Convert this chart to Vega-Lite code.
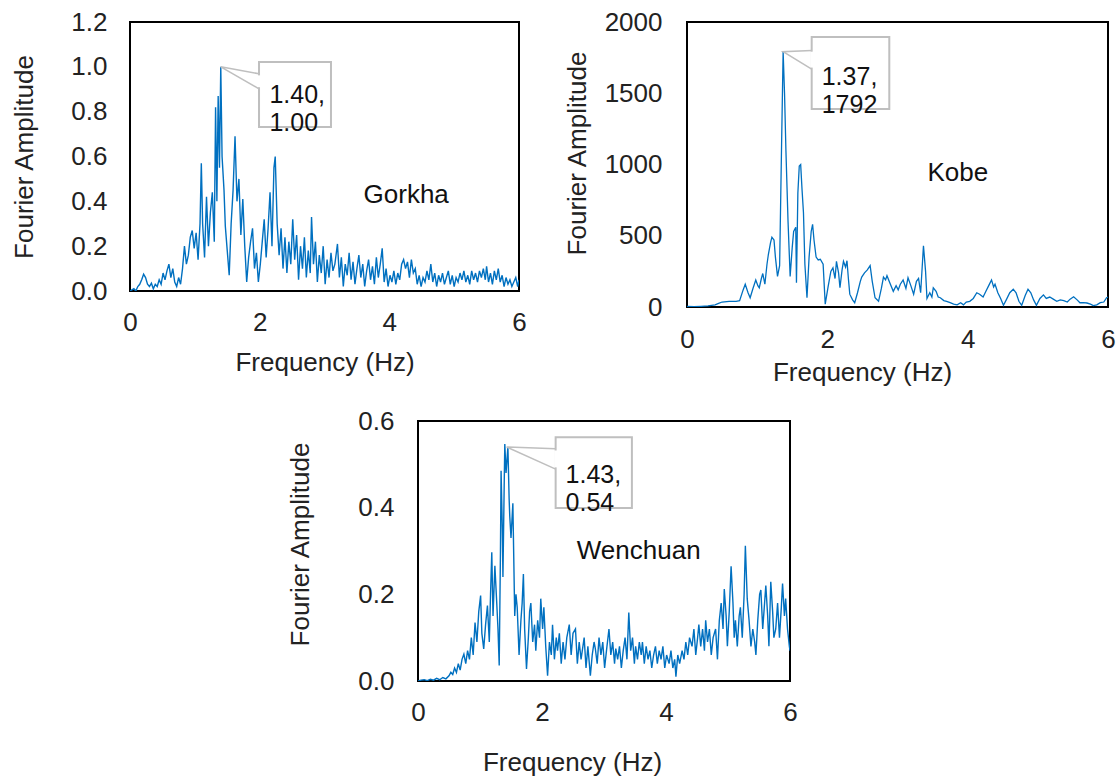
{
  "$schema": "https://vega.github.io/schema/vega-lite/v6.json",
  "padding": {"left": 10, "top": 8, "right": 0, "bottom": 0},
  "background": "white",
  "config": {
    "font": "Liberation Sans",
    "view": {"stroke": "#000", "strokeWidth": 2},
    "axis": {"domain": false, "ticks": false, "tickSize": 0, "grid": false, "labelFontSize": 26, "titleFontSize": 26, "titleFontWeight": "normal", "labelColor": "#222", "titleColor": "#222", "labelFont": "Liberation Sans", "titleFont": "Liberation Sans", "labelFlush": false, "labelBound": false, "labelOverlap": false}
  },
  "datasets": {
    "gorkha": [
      {"f":0.00,"a":0.00},{"f":0.03,"a":0.005},{"f":0.06,"a":0.01},{"f":0.09,"a":0.00},{"f":0.12,"a":0.02},{"f":0.15,"a":0.03},{"f":0.18,"a":0.05},{"f":0.21,"a":0.075},{"f":0.24,"a":0.06},{"f":0.27,"a":0.03},{"f":0.30,"a":0.02},{"f":0.33,"a":0.035},{"f":0.36,"a":0.01},{"f":0.39,"a":0.03},{"f":0.42,"a":0.02},{"f":0.45,"a":0.05},{"f":0.48,"a":0.03},{"f":0.51,"a":0.08},{"f":0.54,"a":0.05},{"f":0.57,"a":0.09},{"f":0.60,"a":0.12},{"f":0.63,"a":0.06},{"f":0.66,"a":0.10},{"f":0.69,"a":0.04},{"f":0.72,"a":0.02},{"f":0.75,"a":0.06},{"f":0.78,"a":0.03},{"f":0.81,"a":0.10},{"f":0.84,"a":0.20},{"f":0.87,"a":0.12},{"f":0.90,"a":0.16},{"f":0.93,"a":0.24},{"f":0.96,"a":0.27},{"f":0.99,"a":0.19},{"f":1.02,"a":0.26},{"f":1.05,"a":0.14},{"f":1.08,"a":0.30},{"f":1.10,"a":0.57},{"f":1.12,"a":0.30},{"f":1.15,"a":0.15},{"f":1.18,"a":0.42},{"f":1.21,"a":0.20},{"f":1.24,"a":0.35},{"f":1.27,"a":0.44},{"f":1.30,"a":0.22},{"f":1.32,"a":0.82},{"f":1.34,"a":0.40},{"f":1.36,"a":0.87},{"f":1.38,"a":0.55},{"f":1.40,"a":1.00},{"f":1.42,"a":0.60},{"f":1.45,"a":0.45},{"f":1.47,"a":0.29},{"f":1.50,"a":0.18},{"f":1.53,"a":0.07},{"f":1.56,"a":0.30},{"f":1.59,"a":0.45},{"f":1.62,"a":0.69},{"f":1.65,"a":0.40},{"f":1.68,"a":0.50},{"f":1.71,"a":0.25},{"f":1.74,"a":0.41},{"f":1.77,"a":0.20},{"f":1.80,"a":0.04},{"f":1.83,"a":0.15},{"f":1.86,"a":0.22},{"f":1.89,"a":0.28},{"f":1.92,"a":0.10},{"f":1.95,"a":0.17},{"f":1.98,"a":0.04},{"f":2.01,"a":0.12},{"f":2.04,"a":0.22},{"f":2.07,"a":0.32},{"f":2.10,"a":0.15},{"f":2.13,"a":0.28},{"f":2.16,"a":0.44},{"f":2.19,"a":0.20},{"f":2.22,"a":0.55},{"f":2.24,"a":0.60},{"f":2.27,"a":0.30},{"f":2.30,"a":0.16},{"f":2.33,"a":0.28},{"f":2.36,"a":0.10},{"f":2.39,"a":0.24},{"f":2.42,"a":0.08},{"f":2.45,"a":0.22},{"f":2.48,"a":0.12},{"f":2.51,"a":0.32},{"f":2.54,"a":0.14},{"f":2.57,"a":0.25},{"f":2.60,"a":0.05},{"f":2.63,"a":0.20},{"f":2.66,"a":0.10},{"f":2.69,"a":0.24},{"f":2.72,"a":0.06},{"f":2.75,"a":0.18},{"f":2.78,"a":0.08},{"f":2.80,"a":0.33},{"f":2.83,"a":0.12},{"f":2.86,"a":0.22},{"f":2.89,"a":0.04},{"f":2.92,"a":0.16},{"f":2.95,"a":0.08},{"f":2.98,"a":0.20},{"f":3.01,"a":0.03},{"f":3.04,"a":0.14},{"f":3.07,"a":0.06},{"f":3.10,"a":0.17},{"f":3.13,"a":0.09},{"f":3.16,"a":0.12},{"f":3.20,"a":0.21},{"f":3.23,"a":0.06},{"f":3.26,"a":0.15},{"f":3.29,"a":0.02},{"f":3.32,"a":0.12},{"f":3.35,"a":0.07},{"f":3.38,"a":0.17},{"f":3.41,"a":0.05},{"f":3.44,"a":0.13},{"f":3.47,"a":0.03},{"f":3.50,"a":0.10},{"f":3.53,"a":0.16},{"f":3.56,"a":0.06},{"f":3.59,"a":0.12},{"f":3.62,"a":0.02},{"f":3.65,"a":0.09},{"f":3.68,"a":0.14},{"f":3.71,"a":0.05},{"f":3.74,"a":0.11},{"f":3.77,"a":0.03},{"f":3.80,"a":0.15},{"f":3.83,"a":0.06},{"f":3.86,"a":0.12},{"f":3.89,"a":0.19},{"f":3.92,"a":0.04},{"f":3.95,"a":0.10},{"f":3.98,"a":0.02},{"f":4.01,"a":0.07},{"f":4.04,"a":0.04},{"f":4.07,"a":0.09},{"f":4.10,"a":0.03},{"f":4.13,"a":0.08},{"f":4.16,"a":0.05},{"f":4.19,"a":0.12},{"f":4.22,"a":0.14},{"f":4.25,"a":0.10},{"f":4.28,"a":0.13},{"f":4.31,"a":0.06},{"f":4.34,"a":0.14},{"f":4.37,"a":0.08},{"f":4.40,"a":0.10},{"f":4.43,"a":0.03},{"f":4.46,"a":0.07},{"f":4.49,"a":0.02},{"f":4.52,"a":0.06},{"f":4.55,"a":0.04},{"f":4.58,"a":0.09},{"f":4.61,"a":0.05},{"f":4.64,"a":0.12},{"f":4.67,"a":0.04},{"f":4.70,"a":0.08},{"f":4.73,"a":0.02},{"f":4.76,"a":0.07},{"f":4.79,"a":0.04},{"f":4.82,"a":0.08},{"f":4.85,"a":0.03},{"f":4.88,"a":0.06},{"f":4.91,"a":0.09},{"f":4.94,"a":0.03},{"f":4.97,"a":0.07},{"f":5.00,"a":0.02},{"f":5.03,"a":0.06},{"f":5.06,"a":0.04},{"f":5.09,"a":0.08},{"f":5.12,"a":0.05},{"f":5.15,"a":0.09},{"f":5.18,"a":0.04},{"f":5.21,"a":0.07},{"f":5.24,"a":0.03},{"f":5.27,"a":0.09},{"f":5.30,"a":0.05},{"f":5.33,"a":0.08},{"f":5.36,"a":0.04},{"f":5.39,"a":0.09},{"f":5.42,"a":0.06},{"f":5.45,"a":0.10},{"f":5.48,"a":0.05},{"f":5.50,"a":0.11},{"f":5.53,"a":0.04},{"f":5.56,"a":0.08},{"f":5.59,"a":0.03},{"f":5.62,"a":0.09},{"f":5.65,"a":0.05},{"f":5.68,"a":0.10},{"f":5.71,"a":0.04},{"f":5.74,"a":0.07},{"f":5.77,"a":0.02},{"f":5.80,"a":0.06},{"f":5.83,"a":0.03},{"f":5.86,"a":0.05},{"f":5.89,"a":0.02},{"f":5.92,"a":0.04},{"f":5.95,"a":0.06},{"f":5.98,"a":0.02},{"f":6.00,"a":0.05}
    ],
    "kobe": [
      {"f":0.00,"a":5},{"f":0.10,"a":3},{"f":0.20,"a":5},{"f":0.30,"a":8},{"f":0.40,"a":15},{"f":0.45,"a":25},{"f":0.50,"a":35},{"f":0.60,"a":40},{"f":0.70,"a":40},{"f":0.75,"a":45},{"f":0.80,"a":120},{"f":0.83,"a":160},{"f":0.87,"a":100},{"f":0.90,"a":65},{"f":0.94,"a":130},{"f":0.98,"a":190},{"f":1.01,"a":150},{"f":1.03,"a":135},{"f":1.06,"a":200},{"f":1.08,"a":235},{"f":1.11,"a":160},{"f":1.14,"a":300},{"f":1.16,"a":370},{"f":1.19,"a":450},{"f":1.21,"a":490},{"f":1.24,"a":470},{"f":1.26,"a":350},{"f":1.29,"a":215},{"f":1.32,"a":290},{"f":1.35,"a":1200},{"f":1.37,"a":1792},{"f":1.39,"a":1500},{"f":1.41,"a":1095},{"f":1.44,"a":600},{"f":1.47,"a":215},{"f":1.50,"a":420},{"f":1.52,"a":530},{"f":1.55,"a":560},{"f":1.56,"a":170},{"f":1.58,"a":800},{"f":1.60,"a":990},{"f":1.62,"a":1000},{"f":1.64,"a":820},{"f":1.66,"a":660},{"f":1.68,"a":300},{"f":1.71,"a":65},{"f":1.74,"a":350},{"f":1.77,"a":530},{"f":1.79,"a":580},{"f":1.81,"a":470},{"f":1.84,"a":350},{"f":1.87,"a":330},{"f":1.90,"a":335},{"f":1.94,"a":300},{"f":1.97,"a":20},{"f":2.01,"a":140},{"f":2.05,"a":250},{"f":2.08,"a":275},{"f":2.11,"a":200},{"f":2.13,"a":320},{"f":2.16,"a":240},{"f":2.18,"a":135},{"f":2.21,"a":260},{"f":2.23,"a":320},{"f":2.26,"a":280},{"f":2.28,"a":325},{"f":2.30,"a":200},{"f":2.32,"a":90},{"f":2.36,"a":50},{"f":2.39,"a":30},{"f":2.43,"a":100},{"f":2.47,"a":180},{"f":2.49,"a":210},{"f":2.53,"a":240},{"f":2.57,"a":260},{"f":2.61,"a":290},{"f":2.64,"a":180},{"f":2.68,"a":65},{"f":2.73,"a":40},{"f":2.77,"a":130},{"f":2.80,"a":210},{"f":2.83,"a":190},{"f":2.85,"a":220},{"f":2.89,"a":170},{"f":2.94,"a":110},{"f":2.98,"a":150},{"f":3.01,"a":120},{"f":3.04,"a":160},{"f":3.08,"a":190},{"f":3.12,"a":130},{"f":3.15,"a":205},{"f":3.19,"a":150},{"f":3.23,"a":90},{"f":3.27,"a":180},{"f":3.30,"a":200},{"f":3.33,"a":100},{"f":3.37,"a":430},{"f":3.40,"a":250},{"f":3.42,"a":60},{"f":3.46,"a":100},{"f":3.49,"a":70},{"f":3.51,"a":135},{"f":3.55,"a":110},{"f":3.58,"a":70},{"f":3.61,"a":65},{"f":3.66,"a":45},{"f":3.70,"a":40},{"f":3.75,"a":30},{"f":3.80,"a":20},{"f":3.85,"a":15},{"f":3.90,"a":30},{"f":3.94,"a":15},{"f":3.98,"a":35},{"f":4.03,"a":40},{"f":4.08,"a":60},{"f":4.13,"a":100},{"f":4.17,"a":90},{"f":4.22,"a":70},{"f":4.26,"a":110},{"f":4.30,"a":150},{"f":4.34,"a":190},{"f":4.37,"a":140},{"f":4.39,"a":160},{"f":4.43,"a":100},{"f":4.47,"a":60},{"f":4.51,"a":12},{"f":4.55,"a":50},{"f":4.60,"a":100},{"f":4.65,"a":125},{"f":4.69,"a":100},{"f":4.73,"a":40},{"f":4.77,"a":12},{"f":4.82,"a":80},{"f":4.86,"a":125},{"f":4.90,"a":100},{"f":4.94,"a":50},{"f":4.98,"a":12},{"f":5.03,"a":60},{"f":5.08,"a":85},{"f":5.12,"a":60},{"f":5.17,"a":70},{"f":5.22,"a":55},{"f":5.27,"a":40},{"f":5.32,"a":50},{"f":5.37,"a":45},{"f":5.42,"a":35},{"f":5.46,"a":55},{"f":5.51,"a":72},{"f":5.56,"a":50},{"f":5.60,"a":30},{"f":5.65,"a":30},{"f":5.70,"a":28},{"f":5.75,"a":20},{"f":5.79,"a":10},{"f":5.84,"a":15},{"f":5.89,"a":30},{"f":5.94,"a":35},{"f":5.98,"a":65},{"f":6.00,"a":70}
    ],
    "wenchuan": [
      {"f":0.00,"a":0.000},{"f":0.05,"a":0.002},{"f":0.10,"a":0.003},{"f":0.15,"a":0.001},{"f":0.20,"a":0.004},{"f":0.25,"a":0.002},{"f":0.30,"a":0.006},{"f":0.35,"a":0.003},{"f":0.40,"a":0.008},{"f":0.45,"a":0.005},{"f":0.50,"a":0.012},{"f":0.53,"a":0.02},{"f":0.56,"a":0.015},{"f":0.59,"a":0.03},{"f":0.62,"a":0.02},{"f":0.65,"a":0.04},{"f":0.68,"a":0.025},{"f":0.71,"a":0.05},{"f":0.74,"a":0.062},{"f":0.77,"a":0.04},{"f":0.80,"a":0.07},{"f":0.83,"a":0.05},{"f":0.86,"a":0.10},{"f":0.89,"a":0.06},{"f":0.92,"a":0.135},{"f":0.95,"a":0.09},{"f":0.98,"a":0.16},{"f":1.01,"a":0.197},{"f":1.03,"a":0.11},{"f":1.06,"a":0.074},{"f":1.09,"a":0.13},{"f":1.12,"a":0.174},{"f":1.15,"a":0.09},{"f":1.17,"a":0.20},{"f":1.19,"a":0.297},{"f":1.21,"a":0.15},{"f":1.24,"a":0.266},{"f":1.27,"a":0.18},{"f":1.29,"a":0.12},{"f":1.31,"a":0.036},{"f":1.33,"a":0.30},{"f":1.34,"a":0.485},{"f":1.36,"a":0.35},{"f":1.37,"a":0.24},{"f":1.39,"a":0.45},{"f":1.40,"a":0.547},{"f":1.42,"a":0.48},{"f":1.44,"a":0.52},{"f":1.45,"a":0.54},{"f":1.47,"a":0.42},{"f":1.48,"a":0.38},{"f":1.50,"a":0.33},{"f":1.53,"a":0.41},{"f":1.56,"a":0.15},{"f":1.58,"a":0.20},{"f":1.60,"a":0.17},{"f":1.63,"a":0.06},{"f":1.66,"a":0.14},{"f":1.68,"a":0.18},{"f":1.70,"a":0.247},{"f":1.72,"a":0.12},{"f":1.75,"a":0.028},{"f":1.78,"a":0.10},{"f":1.80,"a":0.16},{"f":1.82,"a":0.18},{"f":1.85,"a":0.09},{"f":1.88,"a":0.13},{"f":1.90,"a":0.07},{"f":1.93,"a":0.14},{"f":1.96,"a":0.10},{"f":1.98,"a":0.19},{"f":2.01,"a":0.12},{"f":2.03,"a":0.17},{"f":2.06,"a":0.08},{"f":2.09,"a":0.012},{"f":2.12,"a":0.09},{"f":2.15,"a":0.06},{"f":2.17,"a":0.13},{"f":2.20,"a":0.05},{"f":2.23,"a":0.10},{"f":2.25,"a":0.07},{"f":2.28,"a":0.11},{"f":2.31,"a":0.04},{"f":2.34,"a":0.09},{"f":2.37,"a":0.05},{"f":2.40,"a":0.10},{"f":2.44,"a":0.13},{"f":2.47,"a":0.06},{"f":2.50,"a":0.11},{"f":2.54,"a":0.12},{"f":2.57,"a":0.04},{"f":2.60,"a":0.09},{"f":2.63,"a":0.05},{"f":2.65,"a":0.07},{"f":2.68,"a":0.10},{"f":2.71,"a":0.03},{"f":2.74,"a":0.08},{"f":2.78,"a":0.012},{"f":2.81,"a":0.06},{"f":2.84,"a":0.09},{"f":2.86,"a":0.075},{"f":2.89,"a":0.04},{"f":2.92,"a":0.10},{"f":2.95,"a":0.06},{"f":2.98,"a":0.09},{"f":3.01,"a":0.03},{"f":3.04,"a":0.07},{"f":3.08,"a":0.12},{"f":3.11,"a":0.06},{"f":3.14,"a":0.09},{"f":3.17,"a":0.04},{"f":3.19,"a":0.075},{"f":3.22,"a":0.05},{"f":3.25,"a":0.08},{"f":3.28,"a":0.03},{"f":3.31,"a":0.07},{"f":3.34,"a":0.10},{"f":3.37,"a":0.05},{"f":3.40,"a":0.158},{"f":3.43,"a":0.07},{"f":3.46,"a":0.10},{"f":3.49,"a":0.04},{"f":3.51,"a":0.08},{"f":3.54,"a":0.05},{"f":3.57,"a":0.09},{"f":3.60,"a":0.06},{"f":3.62,"a":0.09},{"f":3.65,"a":0.04},{"f":3.68,"a":0.08},{"f":3.71,"a":0.05},{"f":3.74,"a":0.07},{"f":3.77,"a":0.03},{"f":3.80,"a":0.06},{"f":3.83,"a":0.08},{"f":3.86,"a":0.04},{"f":3.89,"a":0.07},{"f":3.92,"a":0.05},{"f":3.95,"a":0.08},{"f":3.98,"a":0.03},{"f":4.01,"a":0.06},{"f":4.05,"a":0.04},{"f":4.08,"a":0.07},{"f":4.11,"a":0.03},{"f":4.14,"a":0.05},{"f":4.16,"a":0.01},{"f":4.19,"a":0.06},{"f":4.22,"a":0.04},{"f":4.26,"a":0.07},{"f":4.29,"a":0.05},{"f":4.32,"a":0.09},{"f":4.35,"a":0.06},{"f":4.38,"a":0.10},{"f":4.42,"a":0.08},{"f":4.45,"a":0.12},{"f":4.48,"a":0.06},{"f":4.51,"a":0.10},{"f":4.53,"a":0.13},{"f":4.56,"a":0.08},{"f":4.59,"a":0.12},{"f":4.62,"a":0.07},{"f":4.64,"a":0.14},{"f":4.67,"a":0.09},{"f":4.70,"a":0.12},{"f":4.73,"a":0.06},{"f":4.76,"a":0.10},{"f":4.80,"a":0.12},{"f":4.83,"a":0.05},{"f":4.86,"a":0.14},{"f":4.89,"a":0.18},{"f":4.92,"a":0.12},{"f":4.94,"a":0.212},{"f":4.97,"a":0.15},{"f":4.99,"a":0.08},{"f":5.02,"a":0.16},{"f":5.05,"a":0.265},{"f":5.08,"a":0.18},{"f":5.10,"a":0.10},{"f":5.12,"a":0.14},{"f":5.15,"a":0.08},{"f":5.18,"a":0.15},{"f":5.20,"a":0.17},{"f":5.23,"a":0.10},{"f":5.26,"a":0.20},{"f":5.28,"a":0.312},{"f":5.31,"a":0.19},{"f":5.34,"a":0.14},{"f":5.37,"a":0.08},{"f":5.40,"a":0.12},{"f":5.43,"a":0.09},{"f":5.45,"a":0.06},{"f":5.48,"a":0.14},{"f":5.51,"a":0.20},{"f":5.53,"a":0.21},{"f":5.56,"a":0.12},{"f":5.59,"a":0.18},{"f":5.61,"a":0.22},{"f":5.64,"a":0.15},{"f":5.66,"a":0.08},{"f":5.69,"a":0.229},{"f":5.72,"a":0.16},{"f":5.74,"a":0.10},{"f":5.77,"a":0.12},{"f":5.80,"a":0.18},{"f":5.83,"a":0.10},{"f":5.86,"a":0.17},{"f":5.88,"a":0.225},{"f":5.91,"a":0.15},{"f":5.93,"a":0.19},{"f":5.96,"a":0.12},{"f":5.99,"a":0.08},{"f":6.00,"a":0.07}
    ]
  },
  "vconcat": [
    {
      "hconcat": [
        {
          "width": 389, "height": 269,
          "encoding": {
            "x": {"field": "f", "type": "quantitative", "scale": {"domain": [0, 6], "nice": false, "zero": false}, "axis": {"values": [0, 2, 4, 6], "title": "Frequency (Hz)", "labelPadding": 18, "titlePadding": 14}},
            "y": {"field": "a", "type": "quantitative", "scale": {"domain": [0, 1.2], "nice": false}, "axis": {"values": [0, 0.2, 0.4, 0.6, 0.8, 1.0, 1.2], "format": ".1f", "title": "Fourier Amplitude", "labelPadding": 23, "titlePadding": 33}}
          },
          "layer": [
            {"data": {"name": "gorkha"}, "mark": {"type": "line", "color": "#0070C0", "strokeWidth": 1.4, "clip": true}},
            {"data": {"values": [{"f": 1.99, "f2": 3.10, "a": 1.022, "a2": 0.732}]}, "mark": {"type": "rect", "fill": "white", "stroke": "#BFBFBF", "strokeWidth": 2}, "encoding": {"x2": {"field": "f2"}, "y2": {"field": "a2"}}},
            {"data": {"values": [{"f": 1.99, "a": 0.962, "a2": 0.909}]}, "mark": {"type": "rule", "color": "white", "strokeWidth": 3}, "encoding": {"y2": {"field": "a2"}}},
            {"data": {"values": [{"f": 1.99, "a": 0.969, "o": 1}, {"f": 1.40, "a": 1.00, "o": 2}, {"f": 1.99, "a": 0.902, "o": 3}]}, "mark": {"type": "line", "color": "#BFBFBF", "strokeWidth": 1.5}, "encoding": {"order": {"field": "o", "type": "quantitative"}}},
            {"data": {"values": [{"f": 2.15, "a": 0.873, "t": "1.40,\n1.00"}]}, "mark": {"type": "text", "align": "left", "baseline": "middle", "fontSize": 25, "lineBreak": "\n", "lineHeight": 28, "color": "#111"}, "encoding": {"text": {"field": "t"}}},
            {"data": {"values": [{"f": 4.26, "a": 0.43, "t": "Gorkha"}]}, "mark": {"type": "text", "align": "center", "baseline": "middle", "fontSize": 26, "color": "#111"}, "encoding": {"text": {"field": "t"}}}
          ]
        },
        {
          "width": 421, "height": 285,
          "encoding": {
            "x": {"field": "f", "type": "quantitative", "scale": {"domain": [0, 6], "nice": false, "zero": false}, "axis": {"values": [0, 2, 4, 6], "title": "Frequency (Hz)", "labelPadding": 19, "titlePadding": 7, "titleX": 175}},
            "y": {"field": "a", "type": "quantitative", "scale": {"domain": [0, 2000], "nice": false}, "axis": {"values": [0, 500, 1000, 1500, 2000], "format": "d", "title": "Fourier Amplitude", "labelPadding": 25, "titlePadding": 14, "titleY": 131}}
          },
          "layer": [
            {"data": {"name": "kobe"}, "mark": {"type": "line", "color": "#0070C0", "strokeWidth": 1.3, "clip": true}},
            {"data": {"values": [{"f": 1.777, "f2": 2.883, "a": 1895, "a2": 1390}]}, "mark": {"type": "rect", "fill": "white", "stroke": "#BFBFBF", "strokeWidth": 2}, "encoding": {"x2": {"field": "f2"}, "y2": {"field": "a2"}}},
            {"data": {"values": [{"f": 1.777, "a": 1792, "a2": 1680}]}, "mark": {"type": "rule", "color": "white", "strokeWidth": 3}, "encoding": {"y2": {"field": "a2"}}},
            {"data": {"values": [{"f": 1.777, "a": 1800, "o": 1}, {"f": 1.37, "a": 1792, "o": 2}, {"f": 1.777, "a": 1670, "o": 3}]}, "mark": {"type": "line", "color": "#BFBFBF", "strokeWidth": 1.5}, "encoding": {"order": {"field": "o", "type": "quantitative"}}},
            {"data": {"values": [{"f": 1.92, "a": 1614, "t": "1.37,\n1792"}]}, "mark": {"type": "text", "align": "left", "baseline": "middle", "fontSize": 25, "lineBreak": "\n", "lineHeight": 28, "color": "#111"}, "encoding": {"text": {"field": "t"}}},
            {"data": {"values": [{"f": 3.86, "a": 940, "t": "Kobe"}]}, "mark": {"type": "text", "align": "center", "baseline": "middle", "fontSize": 26, "color": "#111"}, "encoding": {"text": {"field": "t"}}}
          ]
        }
      ],
      "spacing": 35
    },
    {
      "hconcat": [
        {"width": 156, "height": 10, "data": {"values": [{}]}, "mark": {"type": "point", "opacity": 0}, "encoding": {}, "view": {"stroke": null}},
        {
          "width": 372, "height": 260,
          "encoding": {
            "x": {"field": "f", "type": "quantitative", "scale": {"domain": [0, 6], "nice": false, "zero": false}, "axis": {"values": [0, 2, 4, 6], "title": "Frequency (Hz)", "labelPadding": 18, "titlePadding": 24, "titleX": 154}},
            "y": {"field": "a", "type": "quantitative", "scale": {"domain": [0, 0.6], "nice": false}, "axis": {"values": [0, 0.2, 0.4, 0.6], "format": ".1f", "title": "Fourier Amplitude", "labelPadding": 24, "titlePadding": 44, "titleY": 123}}
          },
          "layer": [
            {"data": {"name": "wenchuan"}, "mark": {"type": "line", "color": "#0070C0", "strokeWidth": 1.4, "clip": true}},
            {"data": {"values": [{"f": 2.22, "f2": 3.45, "a": 0.5624, "a2": 0.399}]}, "mark": {"type": "rect", "fill": "white", "stroke": "#BFBFBF", "strokeWidth": 2}, "encoding": {"x2": {"field": "f2"}, "y2": {"field": "a2"}}},
            {"data": {"values": [{"f": 2.22, "a": 0.532, "a2": 0.493}]}, "mark": {"type": "rule", "color": "white", "strokeWidth": 3}, "encoding": {"y2": {"field": "a2"}}},
            {"data": {"values": [{"f": 2.22, "a": 0.536, "o": 1}, {"f": 1.43, "a": 0.54, "o": 2}, {"f": 2.22, "a": 0.489, "o": 3}]}, "mark": {"type": "line", "color": "#BFBFBF", "strokeWidth": 1.5}, "encoding": {"order": {"field": "o", "type": "quantitative"}}},
            {"data": {"values": [{"f": 2.38, "a": 0.475, "t": "1.43,\n0.54"}]}, "mark": {"type": "text", "align": "left", "baseline": "middle", "fontSize": 25, "lineBreak": "\n", "lineHeight": 28, "color": "#111"}, "encoding": {"text": {"field": "t"}}},
            {"data": {"values": [{"f": 3.56, "a": 0.30, "t": "Wenchuan"}]}, "mark": {"type": "text", "align": "center", "baseline": "middle", "fontSize": 26, "color": "#111"}, "encoding": {"text": {"field": "t"}}}
          ]
        }
      ],
      "spacing": 0
    }
  ],
  "spacing": 21
}
